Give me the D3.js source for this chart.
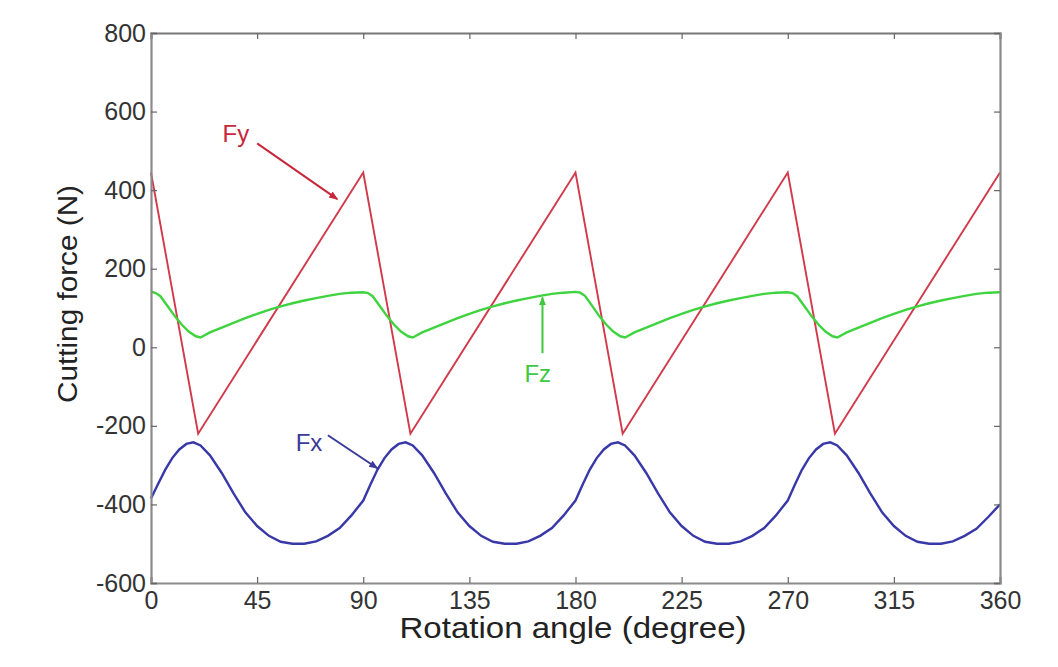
<!DOCTYPE html>
<html>
<head>
<meta charset="utf-8">
<script src="https://cdn.jsdelivr.net/npm/d3@7.9.0/dist/d3.min.js"></script>
<style>
  html, body { margin: 0; padding: 0; background: #fff; }
  svg { display: block; font-family: 'Liberation Sans', Arial, sans-serif; }
</style>
</head>
<body>
<svg id="chart" width="1058" height="667"></svg>
<script>
// tick values
const xTicks = [0, 45, 90, 135, 180, 225, 270, 315, 360];
const yTicks = [-600, -400, -200, 0, 200, 400, 600, 800];

// Fy: sawtooth, [angle, force]
const fy = [
  [0, 445], [20, -220], [90, 445], [110, -220], [180, 445],
  [200, -220], [270, 445], [290, -220], [360, 445]
];

// Fz: [angle, force]
const fz = [
  [0, 142], [2, 138], [4, 130], [7, 105], [10, 80], [13, 58], [16, 40], [19, 28], [21, 25],
  [25, 38], [30, 50], [35, 62], [40, 74], [45, 85], [50, 95], [55, 104], [60, 112],
  [65, 119], [70, 125], [75, 131], [80, 136], [85, 139],
  [90, 140], [92, 138], [94, 130], [97, 105], [100, 80], [103, 58], [106, 40], [109, 28], [111, 25],
  [115, 38], [120, 50], [125, 62], [130, 74], [135, 85], [140, 95], [145, 104], [150, 112],
  [155, 119], [160, 125], [165, 131], [170, 136], [175, 139],
  [180, 141], [182, 139], [184, 131], [187, 106], [190, 80], [193, 58], [196, 40], [199, 28], [201, 25],
  [205, 38], [210, 50], [215, 62], [220, 74], [225, 85], [230, 95], [235, 104], [240, 112],
  [245, 119], [250, 125], [255, 131], [260, 136], [265, 139],
  [270, 140], [272, 138], [274, 130], [277, 105], [280, 80], [283, 58], [286, 40], [289, 28], [291, 25],
  [295, 38], [300, 50], [305, 62], [310, 74], [315, 85], [320, 95], [325, 104], [330, 112],
  [335, 119], [340, 125], [345, 131], [350, 136], [355, 139], [360, 140]
];

// Fx: [angle, force]
const fx = [
  [0, -385], [3, -348], [6, -312], [9, -282], [12, -260], [15, -246], [18, -242],
  [21, -250], [25, -275], [30, -320], [35, -372], [40, -420], [45, -455], [50, -480],
  [55, -495], [60, -500], [65, -500], [70, -494], [75, -480], [80, -460], [85, -428], [88, -405],
  [90, -390], [93, -350], [96, -312], [99, -282], [102, -260], [105, -246], [108, -242],
  [111, -250], [115, -275], [120, -320], [125, -372], [130, -420], [135, -455], [140, -480],
  [145, -495], [150, -500], [155, -500], [160, -494], [165, -480], [170, -460], [175, -428], [178, -405],
  [180, -390], [183, -350], [186, -312], [189, -282], [192, -260], [195, -246], [198, -242],
  [201, -250], [205, -275], [210, -320], [215, -372], [220, -420], [225, -455], [230, -480],
  [235, -495], [240, -500], [245, -500], [250, -494], [255, -480], [260, -460], [265, -428], [268, -405],
  [270, -390], [273, -350], [276, -312], [279, -282], [282, -260], [285, -246], [288, -242],
  [291, -250], [295, -275], [300, -320], [305, -372], [310, -420], [315, -455], [320, -480],
  [325, -495], [330, -500], [335, -500], [340, -494], [345, -480], [350, -462], [355, -432], [360, -400]
];

// annotation labels: label position, arrow start, arrow end (angle, force)
const notes = [
  { name: 'Fy', at: [36, 545], from: [45, 519], to: [79, 377], color: '#c8283c' },
  { name: 'Fx', at: [67, -242], from: [75, -224], to: [96, -308], color: '#3a3a9c' },
  { name: 'Fz', at: [164, -66], from: [166, -15], to: [166, 127], color: '#3ec83e' }
];

const width = 1058;
const height = 667;
const margin = { top: 33, right: 58, bottom: 84, left: 151 };

const svg = d3.select('#chart');

const x = d3.scaleLinear().domain([0, 360]).range([margin.left, width - margin.right]);
const y = d3.scaleLinear().domain([-600, 800]).range([height - margin.bottom, margin.top]);

svg.append('defs').selectAll('marker')
  .data(notes)
  .join('marker')
  .attr('id', (d) => 'arrow-' + d.name)
  .attr('viewBox', '0 0 10 10')
  .attr('refX', 9)
  .attr('refY', 5)
  .attr('markerWidth', 4.5)
  .attr('markerHeight', 4.5)
  .attr('orient', 'auto')
  .append('path')
  .attr('d', 'M0,1 L10,5 L0,9 z')
  .attr('fill', (d) => d.color);

const line = d3.line().x((d) => x(d[0])).y((d) => y(d[1]));

// series
svg.append('path').datum(fy).attr('d', line)
  .attr('fill', 'none').attr('stroke', '#d03a4a').attr('stroke-width', 1.9);
svg.append('path').datum(fz).attr('d', line)
  .attr('fill', 'none').attr('stroke', '#3fd43f').attr('stroke-width', 2.4);
svg.append('path').datum(fx).attr('d', line)
  .attr('fill', 'none').attr('stroke', '#3838a8').attr('stroke-width', 2.4);

// annotations
const ann = svg.append('g').attr('class', 'notes');
ann.selectAll('line')
  .data(notes)
  .join('line')
  .attr('x1', (d) => x(d.from[0]))
  .attr('y1', (d) => y(d.from[1]))
  .attr('x2', (d) => x(d.to[0]))
  .attr('y2', (d) => y(d.to[1]))
  .attr('stroke', (d) => d.color)
  .attr('stroke-width', 2)
  .attr('marker-end', (d) => `url(#arrow-${d.name})`);
ann.selectAll('text')
  .data(notes)
  .join('text')
  .attr('x', (d) => x(d.at[0]))
  .attr('y', (d) => y(d.at[1]))
  .attr('dy', '0.35em')
  .attr('text-anchor', 'middle')
  .attr('font-size', 24)
  .attr('fill', (d) => d.color)
  .text((d) => d.name);

// frame and axes (MATLAB style: ticks inside, box)
const axisColor = '#8a8a8a';
const fmt = (d) => String(d);
const xBottom = svg.append('g')
  .attr('transform', `translate(0, ${y(-600)})`)
  .call(d3.axisBottom(x).tickValues(xTicks).tickSize(-6).tickPadding(8).tickFormat(fmt));
const xTop = svg.append('g')
  .attr('transform', `translate(0, ${y(800)})`)
  .call(d3.axisTop(x).tickValues(xTicks).tickSize(-6).tickFormat(''));
const yLeft = svg.append('g')
  .attr('transform', `translate(${x(0)}, 0)`)
  .call(d3.axisLeft(y).tickValues(yTicks).tickSize(-6).tickPadding(5).tickFormat(fmt));
const yRight = svg.append('g')
  .attr('transform', `translate(${x(360)}, 0)`)
  .call(d3.axisRight(y).tickValues(yTicks).tickSize(-6).tickFormat(''));

[xBottom, xTop, yLeft, yRight].forEach((g) => {
  g.select('.domain').attr('stroke', axisColor).attr('stroke-width', 2.2);
  g.selectAll('.tick line').attr('stroke', '#666').attr('stroke-width', 1.2);
  g.selectAll('.tick text')
    .attr('fill', '#333')
    .attr('font-size', 25)
    .attr('font-family', "'Liberation Sans', Arial, sans-serif");
});
xTop.select('.domain').attr('stroke', '#777');

// axis titles
svg.append('text')
  .attr('x', 573)
  .attr('y', 638)
  .attr('text-anchor', 'middle')
  .attr('font-size', 29)
  .attr('textLength', 347)
  .attr('lengthAdjust', 'spacingAndGlyphs')
  .attr('fill', '#222')
  .text('Rotation angle (degree)');

svg.append('text')
  .attr('transform', 'translate(77, 294) rotate(-90)')
  .attr('text-anchor', 'middle')
  .attr('font-size', 27)
  .attr('textLength', 218)
  .attr('lengthAdjust', 'spacingAndGlyphs')
  .attr('fill', '#222')
  .text('Cutting force (N)');
</script>
</body>
</html>
